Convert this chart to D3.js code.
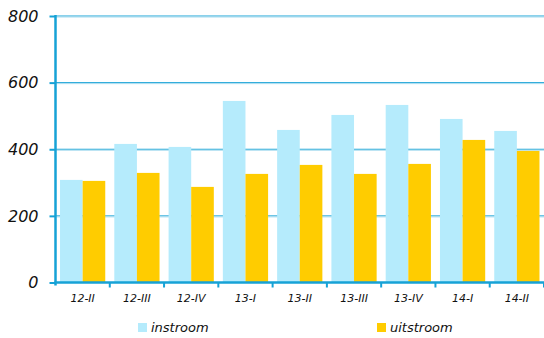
<!DOCTYPE html>
<html><head><meta charset="utf-8">
<script src="https://cdn.jsdelivr.net/npm/d3@7"></script>
<style>body{margin:0;background:#fff}svg{display:block}text{font-family:"DejaVu Sans",Verdana,sans-serif;font-style:italic;fill:#111}</style>
</head><body>
<script>
const categories = ["12-II","12-III","12-IV","13-I","13-II","13-III","13-IV","14-I","14-II"];
const instroom = [308,416,407,545,458,503,533,491,455];
const uitstroom = [305,329,287,326,353,326,356,428,395];
const yTicks = [0,200,400,600,800];
const seriesNames = ["instroom","uitstroom"];
const colors = ["#b5ebfc","#ffcc00"];
const axisColor = "#16a2d6";

const W=544,H=338;
const svg=d3.select("body").append("svg").attr("width",W).attr("height",H);
const x0=55.5,x1=544,yTop=16,yBot=282.5;
const x=d3.scaleBand().domain(categories).range([x0,x1]).paddingInner(0).paddingOuter(0);
const xs=d3.scaleBand().domain(seriesNames).range([0,x.bandwidth()]).paddingOuter(0.2).paddingInner(0);
const y=d3.scaleLinear().domain([0,800]).range([yBot,yTop]);

// gridlines
svg.append("g").selectAll("line").data(yTicks.filter(d=>d>0)).join("line")
  .attr("x1",x0).attr("x2",x1).attr("y1",d=>y(d)).attr("y2",d=>y(d))
  .attr("stroke",axisColor).attr("stroke-width",1);
svg.append("g").selectAll("line").data(yTicks.filter(d=>d>0)).join("line")
  .attr("x1",x0).attr("x2",x1).attr("y1",d=>y(d)+1).attr("y2",d=>y(d)+1)
  .attr("stroke","#a8dcef").attr("stroke-width",1);

// bars
const data=categories.map((c,i)=>({c,vals:[instroom[i],uitstroom[i]]}));
const g=svg.append("g").selectAll("g").data(data).join("g").attr("transform",d=>`translate(${x(d.c)},0)`);
g.selectAll("rect").data(d=>d.vals.map((v,j)=>({v,s:seriesNames[j],j}))).join("rect")
  .attr("x",d=>xs(d.s)).attr("width",xs.bandwidth())
  .attr("y",d=>y(d.v)).attr("height",d=>yBot-y(d.v)).attr("fill",d=>colors[d.j]);

// y axis
const ya=svg.append("g").attr("transform",`translate(${x0},0)`)
  .call(d3.axisLeft(y).tickValues(yTicks).tickSize(6).tickPadding(11).tickFormat(d3.format("d")));
ya.select(".domain").remove();
ya.selectAll(".tick line").attr("stroke",axisColor).attr("stroke-width",2);
ya.selectAll(".tick text").style("font-size","16px").style("font-family","DejaVu Sans").attr("fill","#111");
svg.append("line").attr("x1",x0).attr("x2",x0).attr("y1",yTop-1).attr("y2",yBot+3).attr("stroke",axisColor).attr("stroke-width",2.5);

// x axis
const xa=svg.append("g").attr("transform",`translate(0,${yBot})`)
  .call(d3.axisBottom(x).tickSize(0).tickPadding(12));
xa.select(".domain").remove();
xa.selectAll(".tick text").style("font-size","11px").style("font-family","DejaVu Sans").attr("fill","#111");
svg.append("line").attr("x1",x0-1).attr("x2",x1).attr("y1",yBot).attr("y2",yBot).attr("stroke",axisColor).attr("stroke-width",2.5);
svg.append("g").selectAll("line").data(categories).join("line")
  .attr("x1",d=>x(d)+x.bandwidth()).attr("x2",d=>x(d)+x.bandwidth())
  .attr("y1",yBot).attr("y2",yBot+5).attr("stroke",axisColor).attr("stroke-width",2);

// legend
const legX=[138,377];
const lg=svg.append("g").selectAll("g").data(seriesNames).join("g").attr("transform",(d,i)=>`translate(${legX[i]},323)`);
lg.append("rect").attr("width",9).attr("height",9).attr("fill",(d,i)=>colors[i]);
lg.append("text").attr("x",13).attr("y",9).style("font-size","13px").text(d=>d);
</script>
</body></html>
